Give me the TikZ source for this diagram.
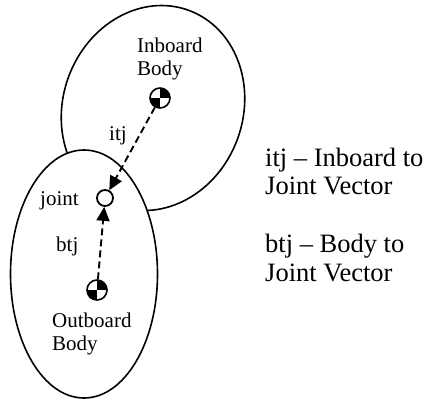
\documentclass[tikz,border=0pt]{standalone}
\usepackage{fontspec}
\setmainfont{Liberation Serif}
\usetikzlibrary{arrows.meta}

\tikzset{
  bodyline/.style={line width=1.6pt},
  cgmark/.style={circle, draw, line width=1.6pt, minimum size=20pt, inner sep=0pt,
    path picture={
      \fill[black] (path picture bounding box.center) rectangle (path picture bounding box.north east);
      \fill[black] (path picture bounding box.center) rectangle (path picture bounding box.south west);
    }},
  jointmark/.style={circle, draw, fill=white, line width=1.8pt, minimum size=16pt, inner sep=0pt},
  vec/.style={line width=1.9pt, dash pattern=on 7pt off 4pt,
    -{Triangle[length=14pt, width=13pt]}},
  lbl/.style={anchor=base west, inner sep=0pt, font=\fontsize{21}{23}\selectfont},
  note/.style={anchor=base west, inner sep=0pt, font=\fontsize{26.5}{28}\selectfont},
}

\begin{document}
\begin{tikzpicture}[x=1pt, y=-1pt]
  \useasboundingbox (0,0) rectangle (426,400);

  % inboard and outboard bodies
  \draw[bodyline, rotate around={-20:(153,108)}] (153,108) ellipse [x radius=90pt, y radius=104pt];
  \draw[bodyline, fill=white] (84,274) ellipse [x radius=73.5pt, y radius=124pt];

  % mass centres and the joint
  \node[cgmark] (cgin) at (160,98) {};
  \node[cgmark] (cgout) at (97,290) {};
  \node[jointmark] (jt) at (105,198) {};

  % vectors to the joint
  \draw[vec] (cgin) -- (jt);
  \draw[vec] (cgout) -- (jt);

  % labels
  \node[lbl] (inb1) at (137,52) {Inboard};
  \node[lbl] (inb2) at (137,75) {Body};
  \node[lbl] (outb1) at (52,327) {Outboard};
  \node[lbl] (outb2) at (52,350) {Body};
  \node[lbl] (itj) at (109,140) {itj};
  \node[lbl] (joint) at (40,205) {joint};
  \node[lbl] (btj) at (56,251) {btj};

  % legend
  \node[note] (leg1) at (265,166) {itj – Inboard to};
  \node[note] (leg2) at (265,194) {Joint Vector};
  \node[note] (leg3) at (265,252) {btj – Body to};
  \node[note] (leg4) at (265,281) {Joint Vector};
\end{tikzpicture}
\end{document}
